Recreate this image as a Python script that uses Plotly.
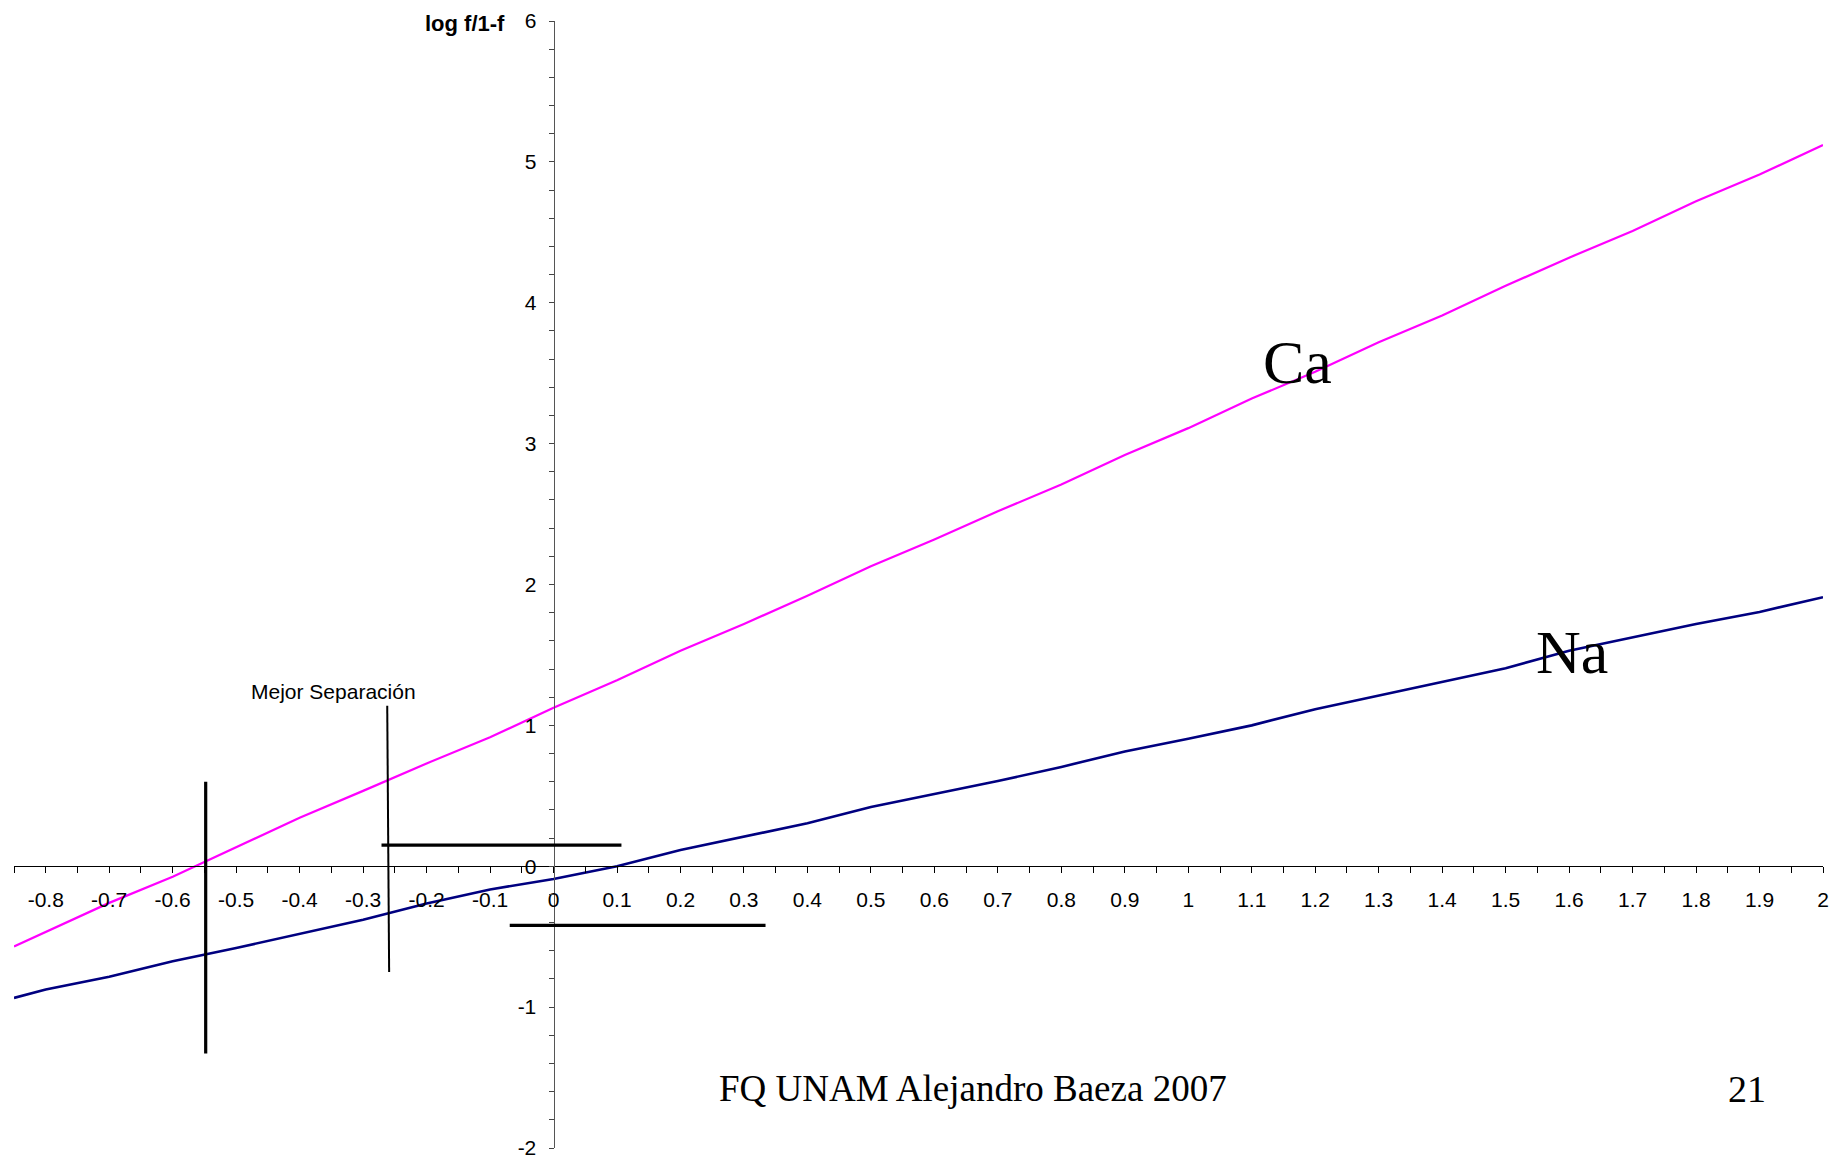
import plotly.graph_objects as go

# ---- data ----
ph = [-0.85, -0.8, -0.7, -0.6, -0.5, -0.4, -0.3, -0.2, -0.1, 0.0,
      0.1, 0.2, 0.3, 0.4, 0.5, 0.6, 0.7, 0.8, 0.9, 1.0,
      1.1, 1.2, 1.3, 1.4, 1.5, 1.6, 1.7, 1.8, 1.9, 2.0]
ca_log = [-0.57, -0.465, -0.26, -0.075, 0.135, 0.345, 0.535, 0.73, 0.915, 1.125,
          1.32, 1.53, 1.72, 1.92, 2.13, 2.32, 2.52, 2.71, 2.92, 3.11,
          3.32, 3.51, 3.72, 3.91, 4.12, 4.32, 4.51, 4.72, 4.91, 5.12]
na_log = [-0.935, -0.875, -0.785, -0.675, -0.58, -0.48, -0.38, -0.265, -0.165, -0.09,
          0.0, 0.115, 0.21, 0.305, 0.42, 0.51, 0.605, 0.705, 0.815, 0.905,
          1.0, 1.115, 1.21, 1.305, 1.405, 1.53, 1.625, 1.72, 1.805, 1.91]

x_ticks = [-0.8, -0.7, -0.6, -0.5, -0.4, -0.3, -0.2, -0.1, 0, 0.1, 0.2, 0.3, 0.4, 0.5,
           0.6, 0.7, 0.8, 0.9, 1, 1.1, 1.2, 1.3, 1.4, 1.5, 1.6, 1.7, 1.8, 1.9, 2]
x_ticklabels = ["-0.8", "-0.7", "-0.6", "-0.5", "-0.4", "-0.3", "-0.2", "-0.1", "0", "0.1",
                "0.2", "0.3", "0.4", "0.5", "0.6", "0.7", "0.8", "0.9", "1", "1.1", "1.2",
                "1.3", "1.4", "1.5", "1.6", "1.7", "1.8", "1.9", "2"]
y_ticks = [-2, -1, 0, 1, 2, 3, 4, 5, 6]
y_ticklabels = ["-2", "-1", "0", "1", "2", "3", "4", "5", "6"]

# marker lines drawn on the chart (data coordinates)
sep_vertical_thick = ((-0.548, 0.60), (-0.548, -1.33))
sep_vertical_thin = ((-0.262, 1.14), (-0.259, -0.75))
sep_horizontal_top = ((-0.271, 0.15), (0.107, 0.15))
sep_horizontal_bottom = ((-0.069, -0.42), (0.334, -0.42))

X_RANGE = [-0.85, 2.0]
Y_RANGE = [-2, 6]

SANS = "Liberation Sans, Arial, sans-serif"
SERIF = "Liberation Serif, Times New Roman, serif"

fig = go.Figure()
fig.add_trace(go.Scatter(x=ph, y=ca_log, mode="lines", name="Ca",
                         line=dict(color="#FF00FF", width=2.2), showlegend=False))
fig.add_trace(go.Scatter(x=ph, y=na_log, mode="lines", name="Na",
                         line=dict(color="#000080", width=2.6), showlegend=False))

for (p0, p1), w in [(sep_vertical_thick, 3.2), (sep_vertical_thin, 2),
                    (sep_horizontal_top, 3.2), (sep_horizontal_bottom, 3.2)]:
    fig.add_shape(type="line", xref="x", yref="y", x0=p0[0], y0=p0[1], x1=p1[0], y1=p1[1],
                  line=dict(color="black", width=w))

x_frac0 = (0 - X_RANGE[0]) / (X_RANGE[1] - X_RANGE[0])
y_frac0 = (0 - Y_RANGE[0]) / (Y_RANGE[1] - Y_RANGE[0])

fig.update_layout(
    width=1836, height=1158,
    margin=dict(l=14, r=13, t=21, b=10, autoexpand=False),
    paper_bgcolor="white", plot_bgcolor="white",
    font=dict(family=SANS, size=21, color="black"),
    xaxis=dict(range=X_RANGE, anchor="free", position=y_frac0, automargin=False,
               tickmode="array", tickvals=x_ticks, ticktext=x_ticklabels,
               ticks="outside", ticklen=6, tickwidth=1, tickcolor="black",
               showline=True, linecolor="black", linewidth=1,
               showgrid=False, zeroline=False, ticklabeloverflow="allow",
               minor=dict(dtick=0.05, tick0=0, ticks="outside", ticklen=6,
                          tickcolor="black", showgrid=False),
               ticklabelstandoff=9,
               tickfont=dict(family=SANS, size=21, color="black")),
    yaxis=dict(range=Y_RANGE, anchor="free", position=x_frac0, automargin=False,
               tickmode="array", tickvals=y_ticks, ticktext=y_ticklabels,
               ticks="outside", ticklen=5, tickwidth=1, tickcolor="#444",
               showline=True, linecolor="#555", linewidth=1,
               showgrid=False, zeroline=False, ticklabeloverflow="allow",
               minor=dict(dtick=0.2, tick0=0, ticks="outside", ticklen=5,
                          tickcolor="#444", showgrid=False),
               ticklabelstandoff=8,
               tickfont=dict(family=SANS, size=21, color="black")),
)

ann = [
    dict(text="<b>log f/1-f</b>", x=-0.139, y=5.98, size=22, family=SANS, xanchor="center"),
    dict(text="<b>pH</b>", x=2.016, y=-0.40, size=21, family=SANS, xanchor="right"),
    dict(text="Mejor Separación", x=-0.347, y=1.24, size=21, family=SANS, xanchor="center"),
    dict(text="Ca", x=1.172, y=3.58, size=62, family=SERIF, xanchor="center"),
    dict(text="Na", x=1.604, y=1.52, size=62, family=SERIF, xanchor="center"),
    dict(text="FQ UNAM Alejandro Baeza 2007", x=0.661, y=-1.58, size=37, family=SERIF, xanchor="center"),
    dict(text="21", x=1.88, y=-1.58, size=38, family=SERIF, xanchor="center"),
]
for a in ann:
    fig.add_annotation(text=a["text"], x=a["x"], y=a["y"], xref="x", yref="y",
                       showarrow=False, xanchor=a["xanchor"], yanchor="middle",
                       font=dict(family=a["family"], size=a["size"], color="black"))

fig.write_html("out.html", config={"displayModeBar": False},
               post_script="document.body.style.margin='0px';document.body.style.overflow='hidden';")
